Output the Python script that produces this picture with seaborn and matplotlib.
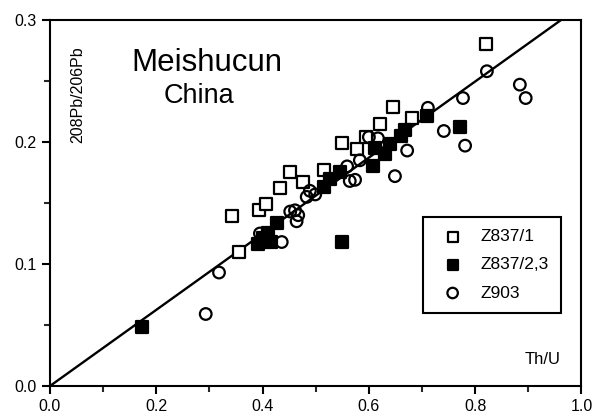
import numpy as np
import pandas as pd
import matplotlib
matplotlib.use('Agg')
import matplotlib.pyplot as plt
from matplotlib.ticker import MultipleLocator
import seaborn as sns

# Th/U vs 208Pb/206Pb, Meishucun section
z837_1_x = [0.343, 0.356, 0.394, 0.406, 0.433, 0.452, 0.476, 0.516, 0.549,
            0.578, 0.595, 0.621, 0.645, 0.681, 0.820]
z837_1_y = [0.139, 0.110, 0.144, 0.149, 0.162, 0.175, 0.167, 0.177, 0.199,
            0.194, 0.204, 0.215, 0.229, 0.220, 0.280]

z837_23_x = [0.173, 0.392, 0.400, 0.410, 0.415, 0.427, 0.515, 0.527, 0.545,
             0.549, 0.607, 0.612, 0.630, 0.640, 0.660, 0.668, 0.709, 0.771]
z837_23_y = [0.048, 0.116, 0.121, 0.125, 0.118, 0.134, 0.163, 0.170, 0.175,
             0.118, 0.180, 0.195, 0.190, 0.198, 0.205, 0.210, 0.221, 0.212]

z903_x = [0.293, 0.318, 0.395, 0.436, 0.452, 0.461, 0.464, 0.467, 0.483,
          0.489, 0.499, 0.559, 0.564, 0.574, 0.583, 0.600, 0.617, 0.649,
          0.672, 0.711, 0.741, 0.777, 0.781, 0.822, 0.884, 0.895]
z903_y = [0.059, 0.093, 0.125, 0.118, 0.143, 0.144, 0.135, 0.140, 0.155,
          0.160, 0.157, 0.180, 0.168, 0.169, 0.185, 0.204, 0.203, 0.172,
          0.193, 0.228, 0.209, 0.236, 0.197, 0.258, 0.247, 0.236]

line_slope = 0.312
line_x = [0.0, 1.0]

sns.set_style('ticks')
plt.rcParams['font.family'] = ['Liberation Sans', 'DejaVu Sans']
plt.rcParams['axes.linewidth'] = 1.5
plt.rcParams['text.color'] = 'black'
plt.rcParams['axes.labelcolor'] = 'black'
plt.rcParams['axes.edgecolor'] = 'black'

fig = plt.figure(figsize=(5.93, 4.19), dpi=100)
ax = fig.add_axes([0.0843, 0.0788, 0.8963, 0.8735])

df_line = pd.DataFrame({'x': line_x, 'y': [line_slope * v for v in line_x]})
sns.lineplot(data=df_line, x='x', y='y', ax=ax, color='black', linewidth=1.7)

ms = 70
sns.scatterplot(x=z837_1_x, y=z837_1_y, ax=ax, marker='s', s=ms,
                color='white', edgecolor='black', linewidth=1.6,
                label='Z837/1', zorder=3)
sns.scatterplot(x=z837_23_x, y=z837_23_y, ax=ax, marker='s', s=ms,
                color='black', edgecolor='black', linewidth=1.6,
                label='Z837/2,3', zorder=3)
sns.scatterplot(x=z903_x, y=z903_y, ax=ax, marker='o', s=ms,
                facecolors='none', edgecolor='black', linewidth=1.6,
                label='Z903', zorder=4)

ax.set_xlim(0, 1.0)
ax.set_ylim(0, 0.3)
ax.xaxis.set_major_locator(MultipleLocator(0.2))
ax.xaxis.set_minor_locator(MultipleLocator(0.1))
ax.yaxis.set_major_locator(MultipleLocator(0.1))
ax.yaxis.set_minor_locator(MultipleLocator(0.05))
ax.xaxis.set_major_formatter(plt.FuncFormatter(lambda v, p: f'{v:.1f}'))
ax.yaxis.set_major_formatter(plt.FuncFormatter(lambda v, p: f'{v:.1f}'))
ax.tick_params(which='major', direction='out', length=6, width=1.5,
               labelsize=11.5, colors='black')
ax.tick_params(which='minor', direction='out', length=4, width=1.5)
ax.set_xlabel('')
ax.set_ylabel('')
for sp in ax.spines.values():
    sp.set_visible(True)
    sp.set_linewidth(1.5)
    sp.set_color('black')

ax.text(0.153, 0.265, 'Meishucun', fontsize=22.5, ha='left', va='center')
ax.text(0.214, 0.238, 'China', fontsize=19.5, ha='left', va='center')
ax.text(0.053, 0.239, '208Pb/206Pb', fontsize=11.5, rotation=90,
        ha='center', va='center')
ax.text(0.96, 0.022, 'Th/U', fontsize=12, ha='right', va='center')

leg = ax.legend(loc='upper left', bbox_to_anchor=(0.702, 0.462),
                borderaxespad=0, frameon=True, fancybox=False, fontsize=12.5,
                handletextpad=0.6, borderpad=0.7, labelspacing=0.75,
                markerscale=0.9)
leg.get_frame().set_edgecolor('black')
leg.get_frame().set_linewidth(1.5)
leg.get_frame().set_alpha(1)
for t in leg.get_texts():
    t.set_color('black')

fig.savefig('out.png', dpi=100)
